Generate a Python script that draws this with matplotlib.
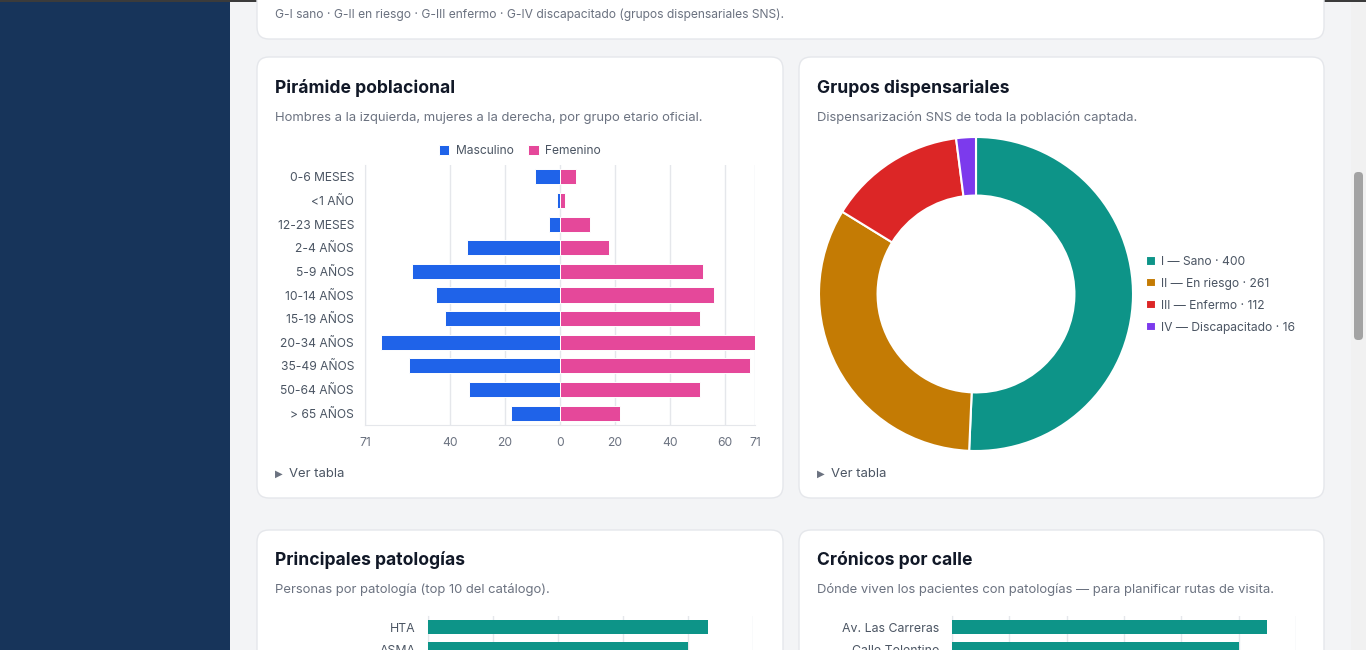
import numpy as np
import matplotlib
matplotlib.use("Agg")
import matplotlib.pyplot as plt
from matplotlib.patches import FancyBboxPatch, Rectangle

plt.rcParams['font.family'] = ['Inter', 'DejaVu Sans']

# canvas size in px (dpi 100)
W, H = 1366, 650

# --- data -------------------------------------------------------------
edades = ['0-6 MESES', '<1 AÑO', '12-23 MESES', '2-4 AÑOS', '5-9 AÑOS',
          '10-14 AÑOS', '15-19 AÑOS', '20-34 AÑOS', '35-49 AÑOS',
          '50-64 AÑOS', '> 65 AÑOS']
masculino = [9, 1, 4, 34, 54, 45, 42, 65, 55, 33, 18]
femenino = [6, 2, 11, 18, 52, 56, 51, 71, 69, 51, 22]

grupos = ['I', 'II', 'III', 'IV']
grupo_nombres = ['Sano', 'En riesgo', 'Enfermo', 'Discapacitado']
grupo_valores = [400, 261, 112, 16]

patologias = ['HTA', 'ASMA']
patologia_valores = [43, 40]

calles = ['Av. Las Carreras', 'Calle Tolentino']
calle_valores = [11, 10]

# --- colours ----------------------------------------------------------
NAVY = '#17345a'
PAGE = '#f3f4f6'
BORDER = '#e5e7eb'
GRID = '#e5e7eb'
TITLE = '#111827'
MUTED = '#6b7280'
LABEL = '#4b5563'
BLUE = '#1f63e9'
PINK = '#e5489a'
TEAL = '#0d9488'
grupo_colores = ['#0d9488', '#c47b04', '#dc2626', '#7c3aed']


def frac(x0, y0, x1, y1):
    # pixel box (top-left origin) -> figure fraction rect
    return [x0 / W, 1 - y1 / H, (x1 - x0) / W, (y1 - y0) / H]


def card(ax, x0, y0, x1, y1):
    ax.add_patch(FancyBboxPatch((x0, y0), x1 - x0, y1 - y0,
                                boxstyle='round,pad=0,rounding_size=12',
                                fc='white', ec=BORDER, lw=1))


def header(ax, x, y, title, sub):
    ax.text(x, y + 2, title, fontsize=12.6, fontweight='bold', color=TITLE,
            va='center', ha='left')
    ax.text(x, y + 32, sub, fontsize=9.4, color=MUTED, va='center', ha='left')


fig = plt.figure(figsize=(W / 100, H / 100), dpi=100, facecolor=PAGE)

bg = fig.add_axes([0, 0, 1, 1])
bg.set_xlim(0, W)
bg.set_ylim(H, 0)
bg.axis('off')
bg.set_facecolor(PAGE)

# sidebar, top bar, scrollbar
bg.add_patch(Rectangle((0, 0), 230, H, fc=NAVY, ec='none'))
bg.add_patch(Rectangle((0, 0), W, 1.5, fc='#3b3b3b', ec='none'))
bg.add_patch(Rectangle((1351, 1.5), 15, H, fc='#f1f1f1', ec='none'))
bg.add_patch(FancyBboxPatch((1354, 172), 9, 168,
                            boxstyle='round,pad=0,rounding_size=4',
                            fc='#a3a3a3', ec='none'))

# cards
card(bg, 257, -20, 1324, 39)
card(bg, 257, 57, 783, 498)
card(bg, 799, 57, 1324, 498)
card(bg, 257, 530, 783, 680)
card(bg, 799, 530, 1324, 680)

bg.text(275, 15, 'G-I sano · G-II en riesgo · G-III enfermo · G-IV discapacitado '
        '(grupos dispensariales SNS).', fontsize=8.7, color=MUTED, va='center')

header(bg, 275, 86, 'Pirámide poblacional',
       'Hombres a la izquierda, mujeres a la derecha, por grupo etario oficial.')
header(bg, 817, 86, 'Grupos dispensariales',
       'Dispensarización SNS de toda la población captada.')
header(bg, 275, 558, 'Principales patologías',
       'Personas por patología (top 10 del catálogo).')
header(bg, 817, 558, 'Crónicos por calle',
       'Dónde viven los pacientes con patologías — para planificar rutas de visita.')

for x in (275, 817):
    bg.text(x, 474, '▶', fontsize=7.2, color=MUTED, va='center',
            family=['DejaVu Sans'])
    bg.text(x + 14, 474, 'Ver tabla', fontsize=9.4, color=LABEL, va='center')

# --- population pyramid -----------------------------------------------
ax = fig.add_axes(frac(365, 165, 755, 425))
y = np.arange(len(edades))
vmax = max(max(masculino), max(femenino))
hm = ax.barh(y, [-v for v in masculino], height=0.64, color=BLUE,
             edgecolor='white', linewidth=0.7, label='Masculino', zorder=3)
hf = ax.barh(y, femenino, height=0.64, color=PINK,
             edgecolor='white', linewidth=0.7, label='Femenino', zorder=3)
ax.set_xlim(-vmax, vmax)
ax.set_ylim(len(edades) - 0.5, -0.5)
ax.set_yticks(y, edades)
ticks = [-vmax, -40, -20, 0, 20, 40, 60, vmax]
ax.set_xticks(ticks, [str(abs(t)) for t in ticks])
ax.set_xticks([-vmax, vmax], minor=True)
ax.grid(axis='x', color=GRID, lw=1, zorder=0)
for s in ('top', 'right'):
    ax.spines[s].set_visible(False)
for s in ('left', 'bottom'):
    ax.spines[s].set_color(GRID)
ax.tick_params(axis='x', which='major', length=0, labelsize=8.7,
               labelcolor=MUTED, pad=9)
ax.tick_params(axis='x', which='minor', length=3.5, color=GRID, width=1)
ax.tick_params(axis='y', length=0, labelsize=8.7, labelcolor=LABEL, pad=8)
fig.legend(handles=[hm, hf], loc='center', bbox_to_anchor=(520 / W, 1 - 151 / H),
           ncol=2, frameon=False, fontsize=8.7, labelcolor=LABEL,
           handlelength=0.85, handleheight=0.85, handletextpad=0.55,
           columnspacing=1.2, borderpad=0)

# --- donut -----------------------------------------------------------
ax = fig.add_axes(frac(819, 137, 1133, 451))
wedges, _ = ax.pie(grupo_valores, colors=grupo_colores, startangle=90,
                   counterclock=False, radius=1,
                   wedgeprops=dict(width=0.373, edgecolor='white', linewidth=1.5))
ax.set_xlim(-1.0, 1.0)
ax.set_ylim(-1.0, 1.0)
labels = [f'{g} — {n} · {v}' for g, n, v in zip(grupos, grupo_nombres, grupo_valores)]
fig.legend(wedges, labels, loc='center left',
           bbox_to_anchor=(1146 / W, 1 - 295 / H), frameon=False,
           fontsize=8.7, labelcolor=LABEL, handlelength=0.8, handleheight=0.8,
           handletextpad=0.45, labelspacing=0.82, borderpad=0, borderaxespad=0)


# --- horizontal bar charts (cut off at page bottom) --------------------
def hbars(box, cats, vals, xmax, step):
    ax = fig.add_axes(frac(*box))
    yy = np.arange(len(cats))
    ax.barh(yy, vals, height=0.64, color=TEAL, zorder=3)
    ax.set_xlim(0, xmax)
    ax.set_ylim(len(cats) - 0.5, -0.5)
    ax.set_xticks(np.arange(0, xmax + 1, step))
    ax.set_yticks(yy, cats)
    ax.grid(axis='x', color=GRID, lw=1, zorder=0)
    for s in ('top', 'right', 'bottom'):
        ax.spines[s].set_visible(False)
    ax.spines['left'].set_color(GRID)
    ax.tick_params(axis='y', length=0, labelsize=8.9, labelcolor=LABEL, pad=9)
    ax.tick_params(axis='x', length=0, labelbottom=False)


hbars((428, 616, 753, 660), patologias, patologia_valores, 50, 10)
hbars((952, 616, 1296, 660), calles, calle_valores, 12, 2)

fig.savefig('out.png', dpi=100, facecolor=PAGE)
